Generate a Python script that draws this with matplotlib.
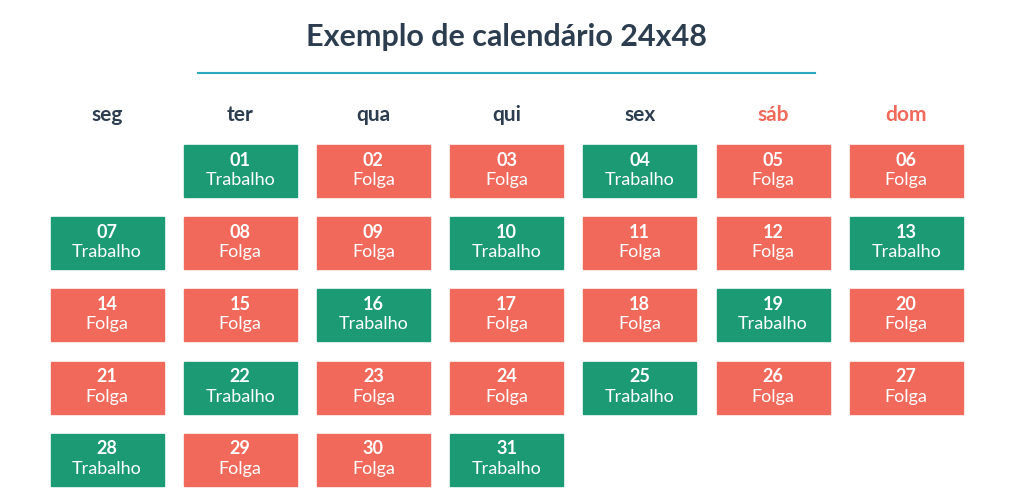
import matplotlib
matplotlib.use("Agg")
import matplotlib.pyplot as plt
from matplotlib.patches import Rectangle

title = "Exemplo de calendário 24x48"
weekdays = ["seg", "ter", "qua", "qui", "sex", "sáb", "dom"]
days = list(range(1, 32))
first_col = 1  # day 1 falls on "ter"
status = ["Trabalho", "Folga", "Folga", "Trabalho", "Folga", "Folga",
          "Trabalho", "Folga", "Folga", "Trabalho", "Folga", "Folga", "Trabalho",
          "Folga", "Folga", "Trabalho", "Folga", "Folga", "Trabalho", "Folga",
          "Folga", "Trabalho", "Folga", "Folga", "Trabalho", "Folga", "Folga",
          "Trabalho", "Folga", "Folga", "Trabalho"]

GREEN = "#1b9a73"
RED = "#f1695a"
DARK = "#2c3d4f"
plt.rcParams["font.family"] = "Lato"

fig = plt.figure(figsize=(10.24, 5.03), dpi=100)
ax = fig.add_axes([0, 0, 1, 1])
ax.set_xlim(0, 1024)
ax.set_ylim(503, 0)
ax.axis("off")

ax.text(507, 37, title, ha="center", va="center", fontsize=22,
        fontweight="bold", color=DARK)
ax.plot([198, 815], [73, 73], color="#2aa9bf", lw=1.5)

col_x = [107 + 133.2 * i for i in range(7)]
for i, wd in enumerate(weekdays):
    ax.text(col_x[i], 115, wd, ha="center", va="center", fontsize=15,
            fontweight="bold", color=RED if i >= 5 else DARK)

w, h = 113, 52
for d, s in zip(days, status):
    idx = d - 1 + first_col
    c, r = idx % 7, idx // 7
    cx = col_x[c]
    top = 145 + 72.2 * r
    ax.add_patch(Rectangle((cx - w / 2, top), w, h,
                           color=GREEN if s == "Trabalho" else RED))
    ax.text(cx, top + 15, f"{d:02d}", ha="center", va="center", fontsize=13,
            fontweight="bold", color="white")
    ax.text(cx, top + 35, s, ha="center", va="center", fontsize=13,
            color="white")

fig.savefig("out.png", dpi=100)
